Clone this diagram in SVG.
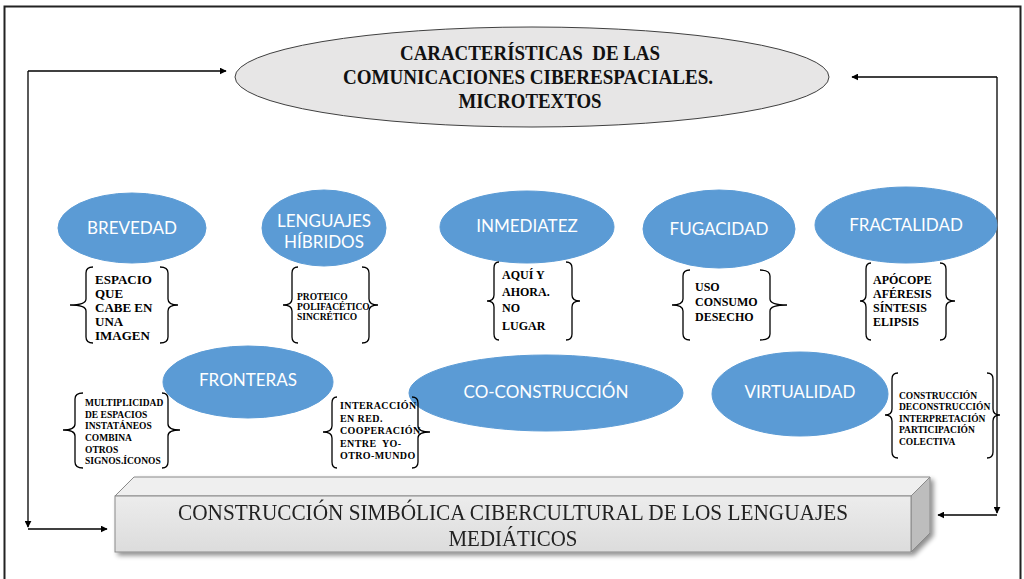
<svg xmlns="http://www.w3.org/2000/svg" width="1024" height="579" viewBox="0 0 1024 579">
<defs>
<marker id="ah" viewBox="0 0 10 10" refX="9" refY="5" markerWidth="7" markerHeight="7" orient="auto" markerUnits="userSpaceOnUse"><path d="M0,0 L10,5 L0,10 z" fill="#000"/></marker>
<linearGradient id="front" x1="0" y1="0" x2="0" y2="1"><stop offset="0" stop-color="#ececec"/><stop offset="1" stop-color="#dcdcdc"/></linearGradient>
<filter id="sh" x="-5%" y="-20%" width="110%" height="150%"><feGaussianBlur in="SourceAlpha" stdDeviation="2.5"/><feOffset dx="3" dy="3"/><feComponentTransfer><feFuncA type="linear" slope="0.45"/></feComponentTransfer><feMerge><feMergeNode/><feMergeNode in="SourceGraphic"/></feMerge></filter>
</defs>
<style>
.blue{fill:#5b9bd5;stroke:#5b9bd5;stroke-width:1}
.bt{font-family:Lato,"Open Sans",sans-serif;font-size:17px;fill:#fff;text-anchor:middle}
.br{fill:none;stroke:#000;stroke-width:1.3}
.st{font-family:"Liberation Serif","Times New Roman",serif;font-weight:bold;fill:#000}
.con{fill:none;stroke:#000;stroke-width:1.3}
.title{font-family:"Liberation Serif","Times New Roman",serif;font-weight:bold;font-size:21px;fill:#111;text-anchor:middle}
.box{font-family:"Liberation Serif","Times New Roman",serif;font-size:23px;fill:#222;text-anchor:middle}
</style>
<rect x="0" y="0" width="1024" height="579" fill="#fff"/>
<rect x="4.5" y="6.5" width="1016" height="600" fill="none" stroke="#222" stroke-width="2"/>

<g id="connectors">
<path class="con" d="M28,71 L226,71" marker-end="url(#ah)"/>
<path class="con" d="M28,71 L28,527" marker-end="url(#ah)"/>
<path class="con" d="M28,529 L107,529" marker-end="url(#ah)"/>
<path class="con" d="M997,77 L852,77" marker-end="url(#ah)"/>
<path class="con" d="M997,77 L997,513" marker-end="url(#ah)"/>
<path class="con" d="M997,515 L938,515" marker-end="url(#ah)"/>
</g>

<g id="title">
<ellipse cx="532" cy="77" rx="297" ry="50" fill="#e7e6e6" stroke="#404040" stroke-width="1"/>
<text class="title" x="530" y="60" xml:space="preserve" textLength="260" lengthAdjust="spacingAndGlyphs">CARACTERÍSTICAS  DE LAS</text>
<text class="title" x="528" y="84" textLength="370" lengthAdjust="spacingAndGlyphs">COMUNICACIONES CIBERESPACIALES.</text>
<text class="title" x="530" y="108" textLength="143" lengthAdjust="spacingAndGlyphs">MICROTEXTOS</text>
</g>

<g id="base" filter="url(#sh)">
<polygon points="115,496 134,477 930,477 911,496" fill="#efefef" stroke="#8a8a8a" stroke-width="1"/>
<polygon points="911,496 930,477 930,533 911,552" fill="#bdbdbd" stroke="#8a8a8a" stroke-width="1"/>
<rect x="115" y="496" width="796" height="56" fill="url(#front)" stroke="#8a8a8a" stroke-width="1"/>
<text class="box" x="513" y="520" textLength="670" lengthAdjust="spacingAndGlyphs">CONSTRUCCIÓN SIMBÓLICA CIBERCULTURAL DE LOS LENGUAJES</text>
<text class="box" x="513" y="546" textLength="129" lengthAdjust="spacingAndGlyphs">MEDIÁTICOS</text>
</g>

<g id="brevedad">
<ellipse class="blue" cx="132" cy="228" rx="74" ry="35"/>
<text class="bt" x="132" y="234">BREVEDAD</text>
</g>
<g id="lenguajes">
<ellipse class="blue" cx="324" cy="228" rx="62" ry="38"/>
<text class="bt" x="324" y="227">LENGUAJES</text>
<text class="bt" x="324" y="248">HÍBRIDOS</text>
</g>
<g id="inmediatez">
<ellipse class="blue" cx="527" cy="227" rx="87" ry="36"/>
<text class="bt" x="527" y="232">INMEDIATEZ</text>
</g>
<g id="fugacidad">
<ellipse class="blue" cx="719" cy="229" rx="76" ry="39"/>
<text class="bt" x="719" y="235">FUGACIDAD</text>
</g>
<g id="fractalidad">
<ellipse class="blue" cx="906" cy="225" rx="91" ry="38"/>
<text class="bt" x="906" y="231">FRACTALIDAD</text>
</g>
<g id="fronteras">
<ellipse class="blue" cx="248" cy="382" rx="85" ry="36"/>
<text class="bt" x="248" y="386">FRONTERAS</text>
</g>
<g id="coconstruccion">
<ellipse class="blue" cx="546" cy="393" rx="137" ry="38"/>
<text class="bt" x="546" y="398">CO-CONSTRUCCIÓN</text>
</g>
<g id="virtualidad">
<ellipse class="blue" cx="800" cy="394" rx="88" ry="42"/>
<text class="bt" x="800" y="398">VIRTUALIDAD</text>
</g>

<g id="brevedad-detalle">
<path class="br" d="M93,267 Q86,267 86,273 L86,299 Q86,305 70,305 Q86,305 86,311 L86,337 Q86,343 93,343"/>
<path class="br" d="M160,267 Q168,267 168,273 L168,299 Q168,305 178,305 Q168,305 168,311 L168,337 Q168,343 160,343"/>
<text class="st" font-size="13" x="95" y="284">ESPACIO</text>
<text class="st" font-size="13" x="95" y="298">QUE</text>
<text class="st" font-size="13" x="95" y="312">CABE EN</text>
<text class="st" font-size="13" x="95" y="326">UNA</text>
<text class="st" font-size="13" x="95" y="340">IMAGEN</text>
</g>
<g id="lenguajes-detalle">
<path class="br" d="M298,267 Q292,267 292,273 L292,299 Q292,305 283,305 Q292,305 292,311 L292,337 Q292,343 298,343"/>
<path class="br" d="M362,267 Q369,267 369,273 L369,299 Q369,305 378,305 Q369,305 369,311 L369,337 Q369,343 362,343"/>
<text class="st" font-size="9.5" x="297" y="300">PROTEICO</text>
<text class="st" font-size="9.5" x="297" y="310">POLIFACÉTICO</text>
<text class="st" font-size="9.5" x="297" y="320">SINCRÉTICO</text>
</g>
<g id="inmediatez-detalle">
<path class="br" d="M499,262 Q494,262 494,268 L494,295 Q494,301 487,301 Q494,301 494,307 L494,334 Q494,340 499,340"/>
<path class="br" d="M566,262 Q572,262 572,268 L572,295 Q572,301 580,301 Q572,301 572,307 L572,334 Q572,340 566,340"/>
<text class="st" font-size="12" x="502" y="279">AQUÍ Y</text>
<text class="st" font-size="12" x="502" y="296">AHORA.</text>
<text class="st" font-size="12" x="502" y="312">NO</text>
<text class="st" font-size="12" x="502" y="330">LUGAR</text>
</g>
<g id="fugacidad-detalle">
<path class="br" d="M690,270 Q683,270 683,276 L683,299 Q683,305 672,305 Q683,305 683,311 L683,334 Q683,340 690,340"/>
<path class="br" d="M760,270 Q770,270 770,276 L770,299 Q770,305 787,305 Q770,305 770,311 L770,334 Q770,340 760,340"/>
<text class="st" font-size="12" x="695" y="291">USO</text>
<text class="st" font-size="12" x="695" y="306">CONSUMO</text>
<text class="st" font-size="12" x="695" y="321">DESECHO</text>
</g>
<g id="fractalidad-detalle">
<path class="br" d="M871,263 Q866,263 866,269 L866,295 Q866,301 860,301 Q866,301 866,307 L866,334 Q866,340 871,340"/>
<path class="br" d="M940,263 Q946,263 946,269 L946,295 Q946,301 955,301 Q946,301 946,307 L946,334 Q946,340 940,340"/>
<text class="st" font-size="12" x="873" y="284">APÓCOPE</text>
<text class="st" font-size="12" x="873" y="298">AFÉRESIS</text>
<text class="st" font-size="12" x="873" y="312">SÍNTESIS</text>
<text class="st" font-size="12" x="873" y="326">ELIPSIS</text>
</g>
<g id="fronteras-detalle">
<path class="br" d="M83,393 Q75,393 75,399 L75,424 Q75,430 63,430 Q75,430 75,436 L75,462 Q75,468 83,468"/>
<path class="br" d="M162,393 Q168,393 168,399 L168,424 Q168,430 180,430 Q168,430 168,436 L168,462 Q168,468 162,468"/>
<text class="st" font-size="9.5" x="85" y="406">MULTIPLICIDAD</text>
<text class="st" font-size="9.5" x="85" y="418">DE ESPACIOS</text>
<text class="st" font-size="9.5" x="85" y="429">INSTATÁNEOS</text>
<text class="st" font-size="9.5" x="85" y="441">COMBINA</text>
<text class="st" font-size="9.5" x="85" y="453">OTROS</text>
<text class="st" font-size="9.5" x="85" y="464">SIGNOS.ÍCONOS</text>
</g>
<g id="coconstruccion-detalle">
<path class="br" d="M337,397 Q332,397 332,403 L332,426 Q332,432 323,432 Q332,432 332,438 L332,462 Q332,468 337,468"/>
<path class="br" d="M412,397 Q418,397 418,403 L418,426 Q418,432 430,432 Q418,432 418,438 L418,462 Q418,468 412,468"/>
<text class="st" font-size="10" letter-spacing="0.4" x="340" y="409">INTERACCIÓN</text>
<text class="st" font-size="10" letter-spacing="0.4" x="340" y="422">EN RED.</text>
<text class="st" font-size="10" letter-spacing="0.4" x="340" y="434">COOPERACIÓN</text>
<text class="st" font-size="10" letter-spacing="0.4" x="340" y="447" xml:space="preserve">ENTRE  YO-</text>
<text class="st" font-size="10" letter-spacing="0.4" x="340" y="459">OTRO-MUNDO</text>
</g>
<g id="virtualidad-detalle">
<path class="br" d="M898,373 Q892,373 892,379 L892,409 Q892,415 885,415 Q892,415 892,421 L892,452 Q892,458 898,458"/>
<path class="br" d="M987,373 Q993,373 993,379 L993,409 Q993,415 1000,415 Q993,415 993,421 L993,452 Q993,458 987,458"/>
<text class="st" font-size="9.5" x="899" y="399">CONSTRUCCIÓN</text>
<text class="st" font-size="9.5" x="899" y="410">DECONSTRUCCIÓN</text>
<text class="st" font-size="9.5" x="899" y="422">INTERPRETACIÓN</text>
<text class="st" font-size="9.5" x="899" y="433">PARTICIPACIÓN</text>
<text class="st" font-size="9.5" x="899" y="445">COLECTIVA</text>
</g>
</svg>
